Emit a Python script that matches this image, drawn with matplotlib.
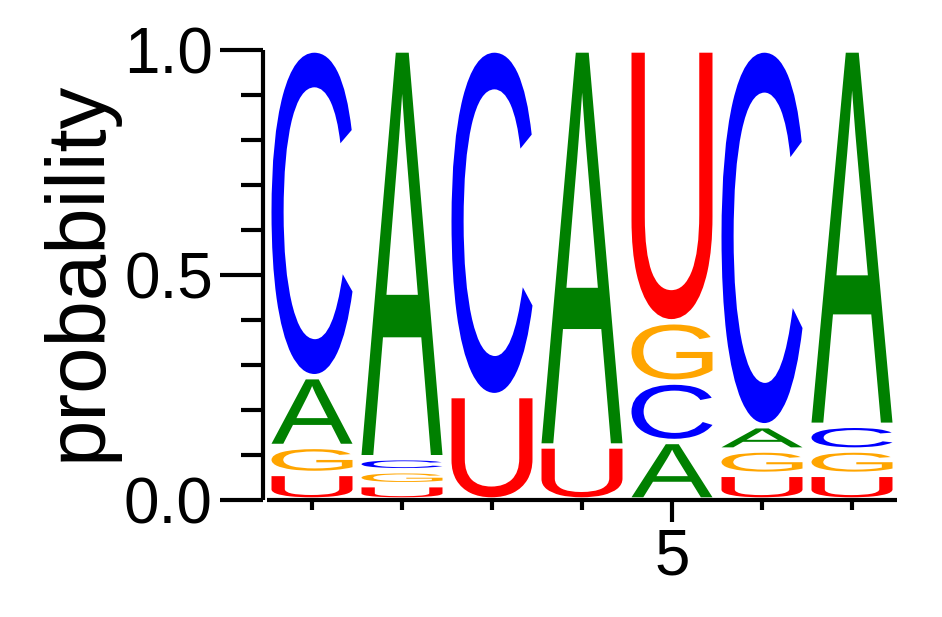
import matplotlib
matplotlib.use("Agg")
import matplotlib.pyplot as plt
from matplotlib.textpath import TextPath
from matplotlib.patches import PathPatch
from matplotlib.font_manager import FontProperties
from matplotlib.transforms import Affine2D
from matplotlib.ticker import FixedLocator, MultipleLocator, FormatStrFormatter

# letter probabilities per position, listed bottom -> top of each stack
positions = [1, 2, 3, 4, 5, 6, 7]
stacks = [
    [("U", 0.059), ("G", 0.060), ("A", 0.155), ("C", 0.726)],
    [("U", 0.034), ("G", 0.031), ("C", 0.029), ("A", 0.906)],
    [("U", 0.232), ("C", 0.768)],
    [("U", 0.120), ("A", 0.880)],
    [("A", 0.130), ("C", 0.132), ("G", 0.134), ("U", 0.604)],
    [("U", 0.057), ("G", 0.054), ("A", 0.054), ("C", 0.835)],
    [("U", 0.057), ("G", 0.054), ("C", 0.055), ("A", 0.834)],
]
colors = {"A": "#008000", "C": "#0000ff", "G": "#ffa500", "U": "#ff0000"}

font = FontProperties(family="Liberation Sans")
letter_w = 0.9
vpad = 0.006


def draw_letter(ax, ch, x, y0, h):
    path = TextPath((0, 0), ch, size=1, prop=font)
    ext = path.get_extents()
    hh = max(h - 2 * vpad, h * 0.4)
    yb = y0 + (h - hh) / 2
    tr = (Affine2D()
          .translate(-ext.x0, -ext.y0)
          .scale(letter_w / ext.width, hh / ext.height)
          .translate(x - letter_w / 2, yb))
    patch = PathPatch(tr.transform_path(path), facecolor=colors[ch],
                      edgecolor="none", transform=ax.transData)
    ax.add_patch(patch)


fig = plt.figure(figsize=(9.42, 6.17), dpi=100)
ax = fig.add_axes([267 / 942, 117 / 617, 630 / 942, 450 / 617])

for x, stack in zip(positions, stacks):
    y = 0.0
    for ch, p in stack:
        draw_letter(ax, ch, x, y, p)
        y += p

ax.set_xlim(0.5, 7.5)
ax.set_ylim(0, 1)

for s in ["top", "right"]:
    ax.spines[s].set_visible(False)
for s in ["left", "bottom"]:
    ax.spines[s].set_linewidth(3)
    ax.spines[s].set_capstyle("butt")
ax.spines["left"].set_position(("outward", 3))

ax.xaxis.set_major_locator(FixedLocator([5]))
ax.xaxis.set_minor_locator(MultipleLocator(1))
ax.yaxis.set_major_locator(MultipleLocator(0.5))
ax.yaxis.set_minor_locator(MultipleLocator(0.1))
ax.yaxis.set_major_formatter(FormatStrFormatter("%.1f"))

ax.tick_params(axis="x", which="major", length=16, width=3, pad=4,
               labelsize=46, direction="out")
ax.tick_params(axis="x", which="minor", length=7, width=3, direction="out")
ax.tick_params(axis="y", which="major", length=31, width=3, pad=5,
               labelsize=46, direction="out")
ax.tick_params(axis="y", which="minor", length=16, width=3, direction="out")
for lab in ax.get_xticklabels() + ax.get_yticklabels():
    lab.set_fontfamily("Liberation Sans")

fig.text(79 / 942, 1 - 271 / 617, "probability", rotation=90, ha="center",
         va="center", fontsize=60, family="Liberation Sans")

fig.savefig("out.png", dpi=100)
